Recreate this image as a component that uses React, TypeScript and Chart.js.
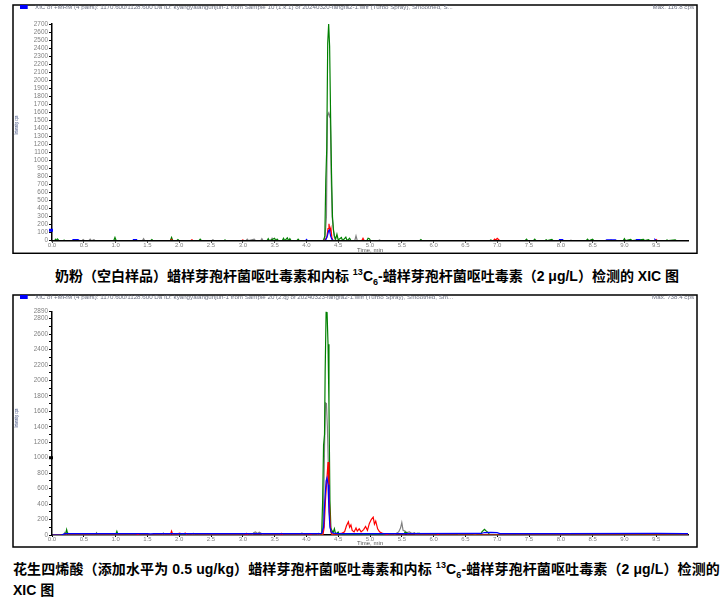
import React, { useEffect, useRef } from "react";
import { Chart, registerables } from "chart.js";
Chart.register(...registerables);

type P = [number, number];

// ---------- shared axis ticks ----------
const xTickValues = [0, 0.5, 1, 1.5, 2, 2.5, 3, 3.5, 4, 4.5, 5, 5.5, 6, 6.5, 7, 7.5, 8, 8.5, 9, 9.5];
const c1YTicks = [0, 100, 200, 300, 400, 500, 600, 700, 800, 900, 1000, 1100, 1200, 1300, 1400, 1500, 1600, 1700, 1800, 1900, 2000, 2100, 2200, 2300, 2400, 2500, 2600, 2700];
const c2YTicks = [0, 100, 200, 300, 400, 500, 600, 700, 800, 900, 1000, 1100, 1200, 1300, 1400, 1500, 1600, 1700, 1800, 1900, 2000, 2100, 2200, 2300, 2400, 2500, 2600, 2700, 2800, 2890];
const c1YMax = 2700;
const c2YMax = 2890;

const c1Header = "XIC of +MRM (4 pairs): 1170.600/1128.600 Da ID: kyangyalangunjun-1 from Sample 10 (1.k.1) of 20240320-fangfa2-1.wiff (Turbo Spray), Smoothed, S...";
const c2Header = "XIC of +MRM (4 pairs): 1170.600/1128.600 Da ID: kyangyalangunjun-1 from Sample 20 (2.q) of 20240323-fangfa2-1.wiff (Turbo Spray), Smoothed, Sm...";
const c1MaxLabel = "Max. 116.8 cps";
const c2MaxLabel = "Max. 738.4 cps";
const c1Marker = 130;
const c2Marker = 1000;

// ---------- chart 1 (blank milk powder) ----------
const c1Gray: P[] = [[0,0],[0.47,0],[0.49,15],[0.51,0],[0.58,0],[0.6,20],[0.62,0],[0.66,12],[0.68,0],[1.42,0],[1.44,25],[1.46,0],[2.51,0],[2.53,12],[2.55,0],[3.05,0],[3.07,18],[3.09,0],[3.18,20],[3.2,0],[3.28,0],[3.3,25],[3.32,0],[3.44,0],[3.46,30],[3.48,0],[4.26,0],[4.29,40],[4.3,120],[4.315,300],[4.33,1560],[4.345,1590],[4.36,1550],[4.375,1600],[4.39,800],[4.405,300],[4.42,180],[4.44,40],[4.46,0],[4.76,0],[4.78,60],[4.8,0],[5.13,0],[5.15,10],[5.17,0],[8.14,0],[8.16,8],[8.18,0],[8.77,0],[8.79,10],[8.81,0],[10,0]];
const c1Green: P[] = [[0,0],[0.04,0],[0.06,20],[0.08,0],[0.09,18],[0.11,0],[0.18,0],[0.19,8],[0.2,0],[0.97,0],[0.99,40],[1.01,0],[1.55,0],[1.57,15],[1.59,0],[1.86,0],[1.88,40],[1.9,0],[1.96,0],[1.98,15],[2,0],[2.31,0],[2.33,20],[2.35,0],[2.7,0],[2.72,10],[2.74,0],[3.38,0],[3.4,25],[3.42,0],[3.5,30],[3.52,0],[3.54,20],[3.56,0],[3.62,0],[3.64,30],[3.66,0],[3.7,35],[3.72,0],[3.74,25],[3.76,0],[3.85,0],[3.87,20],[3.89,0],[4.27,0],[4.29,60],[4.305,760],[4.32,1150],[4.335,2460],[4.35,2700],[4.365,2420],[4.38,1580],[4.395,840],[4.41,300],[4.425,130],[4.44,60],[4.46,20],[4.48,80],[4.5,10],[4.55,40],[4.57,0],[4.62,45],[4.64,0],[4.68,30],[4.7,0],[4.95,0],[4.97,30],[4.99,25],[5.01,0],[5.78,0],[5.8,15],[5.82,0],[6.88,0],[6.9,10],[6.92,0],[7.44,0],[7.46,20],[7.48,0],[7.57,0],[7.59,20],[7.61,0],[7.75,0],[7.77,12],[7.79,0],[7.86,15],[7.88,0],[8.4,0],[8.42,20],[8.44,0],[8.5,18],[8.52,0],[8.98,0],[9,25],[9.02,0],[9.1,15],[9.12,0],[9.3,15],[9.32,0],[9.38,12],[9.4,0],[9.65,0],[9.67,10],[9.69,0],[9.8,10],[9.82,0],[10,0]];
const c1Red: P[] = [[0,0],[1.86,0],[1.88,15],[1.9,0],[2.18,0],[2.2,12],[2.22,0],[2.98,0],[3,10],[3.02,0],[4.28,0],[4.3,20],[4.32,40],[4.34,150],[4.355,210],[4.37,120],[4.385,160],[4.4,40],[4.42,0],[4.87,0],[4.89,30],[4.91,0],[6.94,0],[6.96,20],[6.98,10],[7,30],[7.02,15],[7.04,0],[9.48,0],[9.5,15],[9.52,0],[10,0]];
const c1Blue: P[] = [[0,0],[0.32,0],[0.33,15],[0.41,15],[0.42,0],[1.27,0],[1.28,15],[1.33,15],[1.34,0],[3.99,0],[4,15],[4.02,0],[4.29,0],[4.31,20],[4.33,60],[4.35,125],[4.365,135],[4.38,60],[4.4,20],[4.42,0],[7.97,0],[7.98,15],[8.03,15],[8.04,0],[8.7,0],[8.72,10],[8.86,10],[8.88,0],[9.18,0],[9.19,15],[9.24,15],[9.25,0],[9.47,0],[9.48,15],[9.5,0],[10,0]];

// ---------- chart 2 (arachidonic acid, spiked) ----------
const c2Gray: P[] = [[0,0],[0.18,0],[0.2,30],[0.22,10],[0.25,25],[0.27,0],[0.68,0],[0.7,30],[0.72,0],[1.73,0],[1.75,25],[1.77,0],[2.2,0],[2.22,20],[2.24,0],[3.15,0],[3.17,30],[3.2,40],[3.23,20],[3.26,35],[3.3,15],[3.32,0],[3.91,0],[3.93,25],[3.95,0],[4.17,0],[4.19,20],[4.21,0],[4.25,0],[4.27,300],[4.285,1150],[4.3,1710],[4.315,1700],[4.33,1400],[4.345,900],[4.36,300],[4.375,100],[4.39,20],[4.42,0],[5.38,0],[5.41,20],[5.45,40],[5.48,90],[5.5,160],[5.52,60],[5.55,50],[5.58,30],[5.62,40],[5.66,20],[5.7,30],[5.73,0],[6.39,0],[6.41,15],[6.43,0],[6.63,0],[6.65,15],[6.67,0],[10,0]];
const c2Green: P[] = [[0,0],[0.21,0],[0.23,70],[0.25,0],[0.68,0],[0.7,20],[0.72,0],[1,0],[1.02,48],[1.04,0],[1.15,0],[1.17,12],[1.19,0],[1.41,0],[1.43,15],[1.45,0],[2.25,0],[2.27,15],[2.29,0],[4.22,0],[4.24,20],[4.255,430],[4.27,1160],[4.285,1300],[4.295,2120],[4.31,2890],[4.325,2880],[4.34,2470],[4.355,1670],[4.37,450],[4.385,90],[4.4,60],[4.42,30],[4.44,80],[4.46,10],[4.5,40],[4.52,0],[5.53,0],[5.55,35],[5.58,30],[5.6,0],[5.72,0],[5.74,20],[5.78,20],[5.8,0],[6,0],[6.02,10],[6.08,10],[6.1,0],[6.35,0],[6.37,15],[6.41,15],[6.43,0],[6.74,0],[6.76,40],[6.8,72],[6.83,50],[6.86,30],[6.88,0],[7.25,0],[7.27,15],[7.29,0],[7.44,0],[7.46,10],[7.48,0],[7.86,0],[7.88,10],[7.9,0],[8.04,0],[8.06,15],[8.08,0],[8.17,0],[8.19,15],[8.21,0],[8.38,0],[8.4,12],[8.42,0],[8.48,0],[8.5,15],[8.52,0],[8.91,0],[8.93,15],[9,15],[9.03,0],[9.24,0],[9.26,15],[9.28,0],[9.71,0],[9.73,15],[9.8,12],[9.84,0],[10,0]];
const c2Red: P[] = [[0,0],[1.33,0],[1.35,12],[1.37,0],[1.86,0],[1.88,50],[1.9,0],[1.98,0],[2,25],[2.05,15],[2.1,25],[2.12,0],[3.04,0],[3.06,20],[3.08,0],[3.59,0],[3.61,20],[3.63,0],[4.04,0],[4.06,15],[4.08,0],[4.26,0],[4.28,100],[4.3,450],[4.32,700],[4.34,945],[4.355,600],[4.37,200],[4.385,50],[4.4,10],[4.45,10],[4.55,20],[4.6,40],[4.63,120],[4.66,170],[4.68,100],[4.7,130],[4.72,60],[4.75,40],[4.78,90],[4.8,50],[4.83,80],[4.86,40],[4.9,70],[4.93,110],[4.96,60],[4.99,150],[5.02,200],[5.05,230],[5.07,140],[5.09,180],[5.12,80],[5.15,40],[5.2,20],[5.25,10],[5.3,0],[6.05,0],[6.07,10],[6.09,0],[10,0]];
const c2Blue: P[] = [[0,0],[0.15,0],[0.2,18],[1.5,18],[1.55,14],[1.6,18],[3,18],[4.2,18],[4.24,22],[4.27,100],[4.29,450],[4.31,700],[4.325,740],[4.34,650],[4.355,300],[4.37,100],[4.39,40],[4.42,25],[4.5,18],[5.5,18],[6.75,20],[6.8,32],[6.9,34],[7,30],[7.04,18],[8,18],[9.5,20],[9.95,18],[10,18]];

const COLORS = { gray: "#808080", green: "#008000", red: "#ff0000", blue: "#0000ff" };
const LATIN = '"Liberation Sans", Arial, sans-serif';

type Spec = {
  series: { pts: P[]; color: string }[];
  yTicks: number[];
  yMax: number;
  yLabel: (v: number) => string;
  header: string;
  maxLabel: string;
  marker: number;
  markerColor: string;
  width: number;
  height: number;
  padTop: number;
  xAxisH: number;
  xTitlePad: number;
  box: [number, number, number, number];
  yTitleY: number;
  borderZ: number;
};

function chromePlugin(spec: Spec) {
  return {
    id: "chrome",
    afterDraw(chart: any) {
      const ctx = chart.ctx as CanvasRenderingContext2D;
      ctx.save();
      ctx.strokeStyle = "#000";
      ctx.lineWidth = 1.5;
      const [bx, by, bw, bh] = spec.box;
      ctx.strokeRect(bx, by, bw, bh);
      ctx.fillStyle = "#0000ff";
      ctx.fillRect(8, 1, 7.7, 4);
      ctx.font = `6.2px ${LATIN}`;
      ctx.fillStyle = "#6a6f80";
      ctx.textBaseline = "middle";
      ctx.textAlign = "left";
      ctx.fillText(spec.header, 23, 3.6);
      ctx.textAlign = "right";
      ctx.fillText(spec.maxLabel, 682, 3.6);
      // y marker
      const ys = chart.scales.y;
      const my = ys.getPixelForValue(spec.marker);
      ctx.fillStyle = spec.markerColor;
      ctx.fillRect(37, my - 1.5, 4, 3);
      // y title
      ctx.translate(4.5, spec.yTitleY);
      ctx.rotate(-Math.PI / 2);
      ctx.textAlign = "center";
      ctx.fillStyle = "#1c2f6b";
      ctx.font = `4.5px ${LATIN}`;
      ctx.fillText("Intensity, cps", 0, 0, 19);
      ctx.restore();
    },
  };
}

function makeChart(canvas: HTMLCanvasElement, spec: Spec) {
  return new Chart(canvas, {
    type: "line",
    data: {
      datasets: spec.series.map((s) => ({
        data: s.pts.map(([x, y]) => ({ x, y })),
        borderColor: s.color,
        borderWidth: 1.2,
        pointRadius: 0,
        tension: 0,
        fill: false,
      })),
    },
    options: {
      responsive: false,
      animation: false,
      events: [],
      layout: { padding: { left: 0, right: 10, top: spec.padTop, bottom: 0 } },
      plugins: { legend: { display: false }, tooltip: { enabled: false }, title: { display: false } },
      scales: {
        x: {
          type: "linear",
          min: 0,
          max: 10,
          afterBuildTicks: (s: any) => {
            s.ticks = xTickValues.map((v) => ({ value: v }));
          },
          afterFit: (s: any) => {
            s.height = spec.xAxisH;
          },
          ticks: {
            autoSkip: false,
            maxRotation: 0,
            padding: -1.2,
            color: "#808080",
            font: { size: 6, family: LATIN },
            callback: (v: any) => Number(v).toFixed(1),
          },
          grid: { drawOnChartArea: false, tickLength: 2, color: "#000" },
          border: { color: "#000", width: 1.5, z: spec.borderZ },
          title: {
            display: true,
            text: "Time, min",
            color: "#555",
            font: { size: 6, family: LATIN },
            padding: { top: 0, bottom: spec.xTitlePad },
          },
        },
        y: {
          type: "linear",
          min: 0,
          max: spec.yMax,
          afterBuildTicks: (s: any) => {
            s.ticks = spec.yTicks.map((v) => ({ value: v }));
          },
          afterFit: (s: any) => {
            s.width = 40;
          },
          ticks: {
            autoSkip: false,
            padding: 1,
            color: "#808080",
            font: { size: 6.4, family: LATIN },
            callback: (v: any) => spec.yLabel(Number(v)),
          },
          grid: { drawOnChartArea: false, tickLength: 3, color: "#000" },
          border: { color: "#000", width: 1.5, z: 1 },
        },
      },
    } as any,
    plugins: [chromePlugin(spec)],
  });
}

function ChartCanvas({ spec, left, top }: { spec: Spec; left: number; top: number }) {
  const ref = useRef<HTMLCanvasElement>(null);
  useEffect(() => {
    const chart = makeChart(ref.current!, spec);
    return () => chart.destroy();
  }, []);
  return (
    <canvas
      ref={ref}
      width={spec.width}
      height={spec.height}
      style={{ position: "absolute", left, top, width: spec.width, height: spec.height }}
    />
  );
}

const spec1: Spec = {
  series: [
    { pts: c1Blue, color: COLORS.blue },
    { pts: c1Red, color: COLORS.red },
    { pts: c1Green, color: COLORS.green },
    { pts: c1Gray, color: COLORS.gray },
  ],
  yTicks: c1YTicks,
  yMax: c1YMax,
  yLabel: (v) => String(v),
  header: c1Header,
  maxLabel: c1MaxLabel,
  marker: c1Marker,
  markerColor: "#0000ff",
  width: 686,
  height: 250,
  padTop: 20,
  xAxisH: 13.3,
  xTitlePad: 0,
  box: [1, 1, 684, 248.3],
  yTitleY: 121,
  borderZ: 1,
};

const spec2: Spec = {
  series: [
    { pts: c2Blue, color: COLORS.blue },
    { pts: c2Red, color: COLORS.red },
    { pts: c2Green, color: COLORS.green },
    { pts: c2Gray, color: COLORS.gray },
  ],
  yTicks: c2YTicks,
  yMax: c2YMax,
  yLabel: (v) => (v % 200 === 0 || v === c2YMax ? String(v) : ""),
  header: c2Header,
  maxLabel: c2MaxLabel,
  marker: c2Marker,
  markerColor: "#000",
  width: 686,
  height: 255,
  padTop: 17.7,
  xAxisH: 14,
  xTitlePad: 1.9,
  box: [1, 1, 684, 252],
  yTitleY: 124,
  borderZ: 0,
};

const capFont = `bold 14px "Liberation Sans", Arial, "Noto Sans CJK SC", sans-serif`;
const supStyle: React.CSSProperties = { fontSize: 9, verticalAlign: "super", lineHeight: 0 };
const subStyle: React.CSSProperties = { fontSize: 9, verticalAlign: "sub", lineHeight: 0 };

export default function App() {
  return (
    <div style={{ position: "absolute", left: 0, top: 0, width: 726, height: 601, background: "#fff", overflow: "hidden" }}>
      <ChartCanvas spec={spec1} left={12} top={4} />
      <div style={{ position: "absolute", left: 4, top: 266, width: 726, textAlign: "center", font: capFont, lineHeight: "20px", whiteSpace: "nowrap", color: "#000" }}>
        奶粉（空白样品）蜡样芽孢杆菌呕吐毒素和内标 <span style={supStyle}>13</span>C<span style={subStyle}>6</span>-蜡样芽孢杆菌呕吐毒素（2 μg/L）检测的 XIC 图
      </div>
      <ChartCanvas spec={spec2} left={12} top={294} />
      <div style={{ position: "absolute", left: 13, top: 559, font: capFont, lineHeight: "20px", whiteSpace: "nowrap", color: "#000", letterSpacing: "0.12px" }}>
        花生四烯酸（添加水平为 0.5 ug/kg）蜡样芽孢杆菌呕吐毒素和内标 <span style={supStyle}>13</span>C<span style={subStyle}>6</span>-蜡样芽孢杆菌呕吐毒素（2 μg/L）检测的
      </div>
      <div style={{ position: "absolute", left: 13, top: 580, font: capFont, lineHeight: "20px", whiteSpace: "nowrap", color: "#000" }}>
        XIC 图
      </div>
    </div>
  );
}
